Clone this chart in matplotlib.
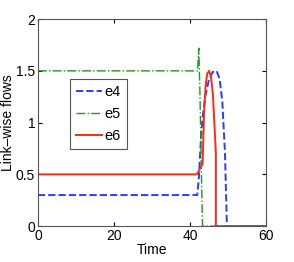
import matplotlib
matplotlib.use("Agg")
from matplotlib import pyplot as plt

plt.rcParams['font.family'] = ['Liberation Sans', 'DejaVu Sans']

# e4 (blue dashed)
t_e4 = [0, 41.9, 42.3, 42.8, 43.3, 44.0, 45.0, 46.0, 47.0, 47.8, 48.5, 49.2, 49.7, 60]
y_e4 = [0.3, 0.3, 0.45, 0.8, 1.05, 1.25, 1.42, 1.49, 1.5, 1.42, 1.2, 0.7, 0.0, 0.0]

# e5 (green dash-dot)
t_e5 = [0, 42.0, 42.3, 42.6, 43.0, 43.3, 60]
y_e5 = [1.5, 1.5, 1.72, 1.3, 0.5, 0.0, 0.0]

# e6 (red solid)
t_e6 = [0, 41.8, 43.3, 43.7, 44.1, 44.5, 45.0, 45.5, 46.0, 46.4, 46.8, 46.8, 60]
y_e6 = [0.5, 0.5, 0.6, 1.1, 1.35, 1.47, 1.5, 1.45, 1.28, 1.0, 0.7, 0.0, 0.0]

labels = ['e4', 'e5', 'e6']
x_ticks = [0, 20, 40, 60]
y_ticks = [0, 0.5, 1, 1.5, 2]
y_ticklabels = ['0', '0.5', '1', '1.5', '2']

fig = plt.figure(figsize=(2.94, 2.62), dpi=100)
ax = fig.add_axes([0.129, 0.137, 0.776, 0.79])

ax.plot(t_e4, y_e4, color='#2a3cff', linestyle='--', linewidth=1.4, label=labels[0])
ax.plot(t_e5, y_e5, color='#1a9a1a', linestyle='-.', linewidth=1.0, label=labels[1])
ax.plot(t_e6, y_e6, color='#ff2a10', linestyle='-', linewidth=1.4, label=labels[2])

ax.set_xlim(0, 60)
ax.set_ylim(0, 2)
ax.set_xticks(x_ticks)
ax.set_yticks(y_ticks)
ax.set_yticklabels(y_ticklabels)
ax.tick_params(direction='in', top=True, right=True, labelsize=10, length=3, pad=2)
for s in ax.spines.values():
    s.set_color('#555555')
    s.set_linewidth(0.8)

ax.set_xlabel('Time', fontsize=10, labelpad=0)
ax.set_ylabel('Link\u2013wise flows', fontsize=10)
ax.yaxis.set_label_coords(-0.10, 0.5)

leg = ax.legend(loc='upper left', bbox_to_anchor=(0.14, 0.71), borderaxespad=0,
                fontsize=10.5, handlelength=1.8, handletextpad=0.2, borderpad=0.4,
                labelspacing=0.55, fancybox=False, framealpha=1)
leg.get_frame().set_edgecolor('#555555')
leg.get_frame().set_linewidth(0.8)

fig.savefig('out.png', dpi=100)
